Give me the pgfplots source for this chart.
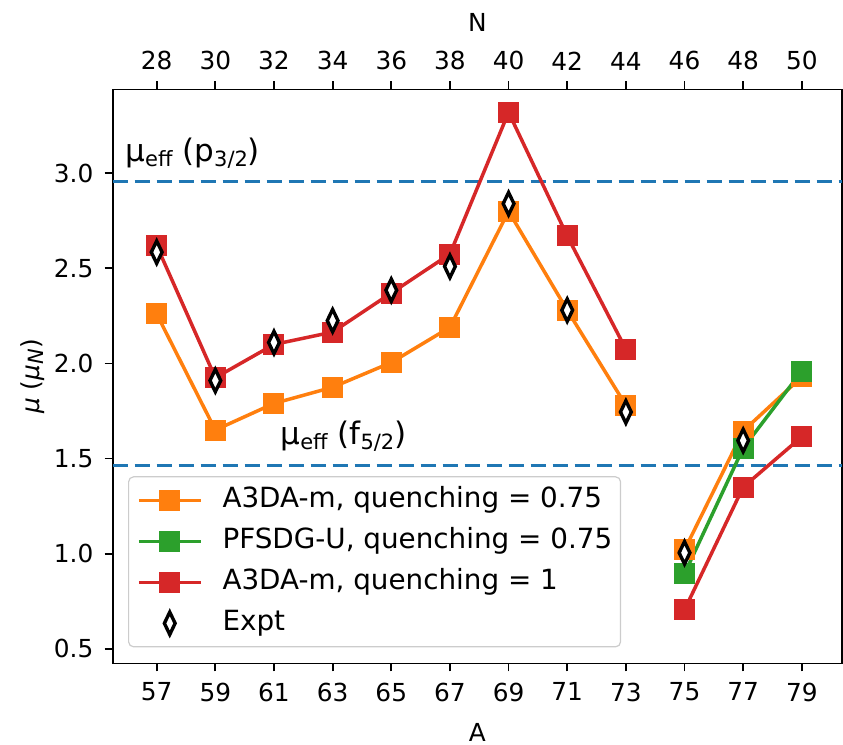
\documentclass[border=0pt]{standalone}
\usepackage{fontspec}
\setmainfont{DejaVu Sans}
\usepackage{pgfplots}
\pgfplotsset{compat=1.18}

\definecolor{tabblue}{HTML}{1F77B4}
\definecolor{taborange}{HTML}{FF7F0E}
\definecolor{tabgreen}{HTML}{2CA02C}
\definecolor{tabred}{HTML}{D62728}

\newcommand{\fs}{\fontsize{12.4}{14.5}\selectfont}
\newcommand{\fsleg}{\fontsize{13.9}{16}\selectfont}
\newcommand{\fsbig}{\fontsize{15.5}{18}\selectfont}
\newcommand{\sub}[1]{\raisebox{-0.3ex}{\fontsize{10.5}{12}\selectfont #1}}

\pgfplotsset{
  series/.style={color=#1, line width=1.75pt, mark=square*,
    mark size=5pt, mark options={solid, fill=#1, draw=#1, line width=0pt}},
  expt/.style={only marks, mark=diamond*, mark size=5.6pt,
    mark options={xscale=0.64, fill=white, draw=black, line width=1.7pt}},
}

\begin{document}
\begin{tikzpicture}[font=\fs]
\useasboundingbox (-56.35pt,-40.75pt) rectangle (365.15pt,331.75pt);
\begin{axis}[
  at={(0pt,0pt)}, anchor=south west, scale only axis,
  width=364.65pt, height=287pt,
  xmin=55.5, xmax=80.37, ymin=0.423, ymax=3.44,
  axis line style={line width=0.9pt},
  xtick={57,59,...,79},
  ytick={0.5,1.0,1.5,2.0,2.5,3.0},
  yticklabel style={/pgf/number format/fixed, /pgf/number format/fixed zerofill,
    /pgf/number format/precision=1},
  /pgf/number format/assume math mode=true,
  tick align=outside, tick pos=left,
  major tick length=4pt,
  tick style={line width=0.9pt, black},
  xticklabel style={inner sep=0pt, anchor=north, yshift=-5.5pt},
  yticklabel style={inner sep=0pt, anchor=east, xshift=-5.5pt},
  xlabel={A},
  xlabel style={at={(axis description cs:0.5,-0.1193)}, anchor=center},
  ylabel={\textit{μ} (\textit{μ}\sub{\textit{N}})},
  ylabel style={at={(axis description cs:-0.1093,0.5)}, anchor=center},
  unbounded coords=jump,
  legend cell align=left,
  legend style={at={(axis description cs:0.021,0.028)}, anchor=south west,
    draw=black!20, line width=0.6pt, rounded corners=2.5pt,
    fill=white, fill opacity=0.8, text opacity=1, draw opacity=1,
    font=\fsleg, inner xsep=4.2pt, inner ysep=5pt, row sep=7pt,
    nodes={inner sep=0pt, text height=10.2pt, text depth=3.3pt},
    /tikz/every odd column/.append style={column sep=10pt}},
  legend image code/.code={%
    \draw[fill opacity=1, draw opacity=1, mark repeat=2, mark phase=2]
      plot coordinates {(0pt,0pt) (15.5pt,0pt) (31pt,0pt)};},
]
% reference values of the effective moments
\addplot[tabblue, line width=1.5pt, dash pattern=on 7.5pt off 3.5pt, forget plot]
  coordinates {(55.5,2.956) (80.37,2.956)};
\addplot[tabblue, line width=1.5pt, dash pattern=on 7.5pt off 3.5pt, forget plot]
  coordinates {(55.5,1.463) (80.37,1.463)};

\addplot[series=taborange] coordinates {
  (57,2.26) (59,1.65) (61,1.79) (63,1.875) (65,2.005) (67,2.19) (69,2.80)
  (71,2.28) (73,1.78) (74,nan) (75,1.02) (77,1.645) (79,1.93)};
\addlegendentry{A3DA-m, quenching = 0.75}

\addplot[series=tabgreen] coordinates {(75,0.895) (77,1.555) (79,1.96)};
\addlegendentry{PFSDG-U, quenching = 0.75}

\addplot[series=tabred] coordinates {
  (57,2.62) (59,1.925) (61,2.10) (63,2.165) (65,2.37) (67,2.575) (69,3.32)
  (71,2.67) (73,2.075) (74,nan) (75,0.705) (77,1.35) (79,1.615)};
\addlegendentry{A3DA-m, quenching = 1}

\addplot[expt, legend image code/.code={%
    \draw[fill opacity=1, draw opacity=1] plot coordinates {(15.5pt,0pt)};}]
  coordinates {
  (57,2.585) (59,1.91) (61,2.11) (63,2.225) (65,2.385) (67,2.51) (69,2.84)
  (71,2.28) (73,1.745) (75,1.005) (77,1.595)};
\addlegendentry{Expt}

\node[anchor=base west, font=\fsbig, inner sep=0pt] at (axis cs:55.92,3.064)
  {μ\sub{eff} (p\sub{3/2})};
\node[anchor=base west, font=\fsbig, inner sep=0pt] at (axis cs:61.21,1.573)
  {μ\sub{eff} (f\sub{5/2})};
\end{axis}

% neutron number on the top axis
\begin{axis}[
  at={(0pt,0pt)}, anchor=south west, scale only axis,
  width=364.65pt, height=287pt,
  xmin=26.5, xmax=51.37, ymin=0.423, ymax=3.44,
  axis x line*=top, axis y line=none,
  axis line style={line width=0.9pt},
  xtick={28,30,...,50},
  /pgf/number format/assume math mode=true,
  tick align=outside,
  major tick length=4pt,
  tick style={line width=0.9pt, black},
  xticklabel style={inner sep=0pt, anchor=south, yshift=5.5pt},
  xlabel={N},
  xlabel style={at={(axis description cs:0.5,1.1167)}, anchor=center},
]
\end{axis}
\end{tikzpicture}
\end{document}
